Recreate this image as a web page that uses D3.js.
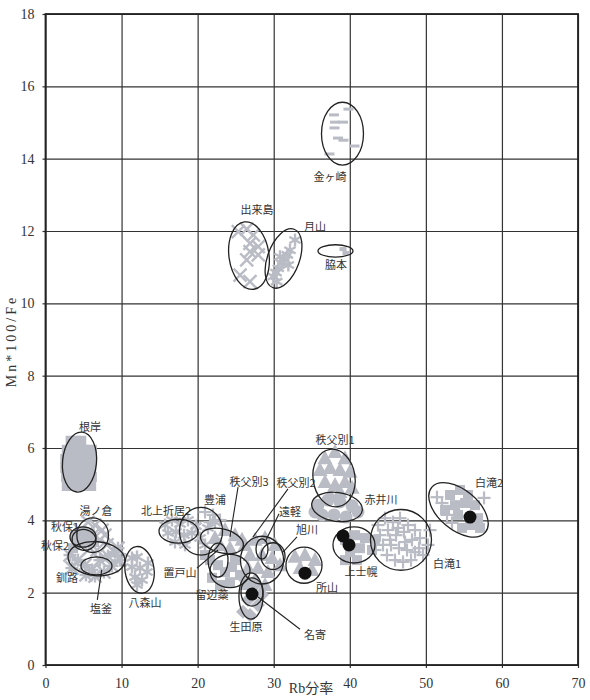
<!DOCTYPE html>
<html><head><meta charset="utf-8">
<script src="https://cdn.jsdelivr.net/npm/d3@7"></script>
<style>
body{margin:0;background:#fff;}
svg{display:block;}
</style></head>
<body>
<svg id="chart" width="590" height="700"></svg>
<script>
// ---- axis ticks ----
const xTicks = [0,10,20,30,40,50,60,70];
const yTicks = [0,2,4,6,8,10,12,14,16,18];

// ---- gray sample points [Rb分率, Mn*100/Fe] ----
const nemuro = [[3.3,6.2],[4.0,6.2],[4.7,6.2],[2.8,5.95],[3.5,5.95],[4.2,5.95],[4.9,5.95],[5.5,5.95],[6.1,5.95],
  [2.6,5.7],[3.3,5.7],[4.0,5.7],[4.7,5.7],[5.4,5.7],[6.1,5.7],[2.6,5.45],[3.3,5.45],[4.0,5.45],[4.7,5.45],[5.4,5.45],[6.0,5.45],
  [2.7,5.2],[3.4,5.2],[4.1,5.2],[4.8,5.2],[5.5,5.2],[6.1,5.2],[2.8,4.95],[3.5,4.95],[4.2,4.95],[4.9,4.95],[6.0,4.95]];
const yunokura = [[4.54,3.73],[5.59,3.95],[6.51,3.87],[7.43,3.73],[5.19,3.51],[6.24,3.59],[7.16,3.46],[8.08,3.32],[5.85,3.23],[6.77,3.18],[7.82,3.59],[4.80,3.32]];
const akiu = [[3.88,3.59],[4.80,3.68],[5.85,3.62],[4.27,3.40],[5.32,3.43],[6.38,3.40],[3.62,3.23]];
const kushiro = [[3.22,3.04],[4.27,2.90],[3.48,2.68],[5.19,2.76],[6.11,2.63],[7.16,2.90],[8.22,3.01],[9.14,3.12],[9.79,2.90],[8.74,2.74],[7.69,2.57],[6.51,2.46],[5.32,2.49],[9.53,3.23]];
const hachimori = [[12.03,2.99],[11.37,2.71],[12.42,2.68],[13.34,2.57],[11.77,2.43],[12.69,2.35],[12.03,2.21],[13.47,2.82],[11.37,2.96]];
const kitakami2 = [[15.71,3.87],[16.63,4.01],[17.68,3.90],[18.73,4.01],[19.78,3.84],[16.10,3.65],[17.16,3.68],[18.21,3.59],[19.26,3.65],[20.31,3.51],[17.02,3.40],[18.34,3.32],[21.36,3.79],[22.28,3.95],[20.97,3.32]];
const toyoura = [[20.97,4.23],[22.02,4.15],[22.94,4.01],[21.63,3.95]];
const chippubetsu3 = [[22.28,3.51],[23.6,3.73],[24.91,3.59],[25.83,3.46],[22.94,3.32],[24.25,3.23]];
const rubeshibe = [[21.63,2.90],[22.68,2.76],[23.6,2.57],[24.52,2.71],[25.57,2.49],[21.89,2.41],[22.94,2.21],[24.25,2.29],[26.23,2.21],[20.97,3.04],[24.91,2.9]];
const ikutahara = [[26.23,2.35],[27.54,2.21],[26.62,1.80],[27.93,1.66],[25.96,1.47],[26.88,1.38],[28.46,1.94]];
const chippubetsu2 = [[26.23,3.32],[27.54,3.46],[28.86,3.51],[30.17,3.32],[26.88,3.04],[28.46,3.04],[29.78,2.96],[30.83,2.76],[26.62,2.68],[27.93,2.68],[29.24,2.57],[27.54,2.35],[28.86,2.21]];
const tokoroyama = [[32.8,2.99],[34.11,3.04],[35.43,2.90],[33.46,2.68],[35.03,2.63]];
const chippubetsu1 = [[36.74,5.72],[38.06,5.89],[39.37,5.72],[36.09,5.39],[37.4,5.45],[38.71,5.39],[40.03,5.34],[36.74,5.06],[38.06,4.98],[39.37,5.06],[37.4,4.7],[38.71,4.78],[40.3,4.9]];
const akaigawa = [[35.82,4.42],[37.14,4.56],[38.71,4.51],[40.3,4.40],[41.08,4.23],[36.35,4.15],[37.93,4.15],[39.5,4.09],[35.43,4.23]];
const kamishihoro = [[39.37,3.46],[40.69,3.59],[42.0,3.51],[43.32,3.46],[40.03,3.12],[41.34,3.23],[42.92,3.18],[39.37,2.9],[40.95,2.9]];
const shirataki1 = [[43.71,3.87],[44.63,4.06],[45.68,3.95],[46.6,4.06],[47.65,3.87],[48.57,3.73],[43.97,3.59],[45.02,3.73],[46.08,3.59],[47.13,3.68],[48.18,3.46],[49.23,3.51],[50.28,3.32],[44.37,3.32],[45.42,3.32],[46.47,3.23],[47.52,3.18],[48.57,3.12],[49.63,3.04],[44.89,3.04],[45.95,2.90],[47.0,2.85],[48.05,2.90],[49.1,3.23],[50.55,3.73],[43.32,3.18],[46.34,3.79],[45.29,3.46],[47.26,3.40]];
const shirataki2sq = [[53.18,4.70],[54.49,4.84],[55.54,4.70],[53.83,4.42],[55.15,4.48],[56.46,4.42],[52.52,4.29],[54.23,4.15],[56.86,4.06],[55.8,3.87],[57.12,3.79],[54.75,3.79]];
const shirataki2pl = [[51.46,4.64],[52.12,4.48],[52.78,4.15],[57.65,4.62],[53.44,3.93]];
const kanegasaki = [[37.93,15.21],[39.83,15.37],[38.06,15.01],[39.11,15.01],[37.99,14.85],[38.45,14.57],[39.17,14.51],[40.62,14.35],[37.33,14.13]];
const dekijima = [[25.35,11.98],[26.45,12.05],[27.32,11.89],[26.88,11.66],[27.97,11.57],[26.88,11.43],[27.97,11.34],[26.45,11.20],[25.57,10.78],[26.88,10.60]];
const gassan = [[32.8,11.75],[32.14,11.47],[31.79,11.34],[31.49,11.20],[31.05,11.11],[30.6,10.97],[30.3,10.85],[29.95,10.74],[30.39,10.60],[31.92,11.06],[30.83,11.29]];
const wakimoto = [[39.11,11.50],[39.5,11.39]];

// black reference points
const blackDots = [[27.15,1.96],[34.11,2.54],[39.11,3.57],[39.9,3.32],[55.8,4.09]];

// ellipses: name, cx, cy, rx (Rb units), ry (Mn units), rotation
const ellipses = [
  ["根岸",4.47,5.61,2.23,0.83,5],["湯ノ倉",6.2,3.59,2.08,0.48,0],["秋保1",4.93,3.54,1.71,0.28,0],["秋保2",5.06,3.46,1.58,0.29,10],
  ["釧路",6.7,2.94,3.75,0.47,5],["塩釜",6.7,2.74,2.04,0.25,0],["八森山",12.36,2.63,1.91,0.65,-8],
  ["北上折居2",17.48,3.70,2.56,0.33,0],["豊浦",20.44,3.70,2.83,0.66,0],["秩父別3",23.2,3.43,2.89,0.33,15],
  ["置戸山",22.68,2.90,1.31,0.47,0],["留辺蘂",24.25,2.60,2.63,0.46,0],["生田原",27.01,1.91,1.58,0.64,0],["名寄",27.15,2.02,1.45,0.39,0],
  ["秩父別2",28.46,2.90,2.83,0.66,0],["遠軽",28.46,3.21,0.79,0.28,0],["旭川",29.91,3.01,1.58,0.37,0],["所山",33.98,2.76,2.37,0.50,0],
  ["秩父別1",37.93,5.17,2.76,0.80,-8],["赤井川",38.32,4.37,3.35,0.40,8],["上士幌",40.55,3.32,2.76,0.50,0],
  ["白滝1",46.73,3.46,4.01,0.84,0],["白滝2",54.29,4.29,4.6,0.55,40],["金ヶ崎",39.04,14.69,2.76,0.87,0],
  ["出来島",26.75,11.32,2.63,0.94,-8],["月山",31.29,11.24,2.10,0.86,20],["脇本",38.12,11.45,2.30,0.17,0]
];

// labels: text, x, y
const labels = [
  ["金ヶ崎",37.4,13.49],["出来島",27.8,12.58],["月山",35.43,12.11],["脇本",38.19,11.06],["根岸",5.85,6.58],
  ["湯ノ倉",6.64,4.26],["秋保1",2.56,3.82],["秋保2",1.25,3.29],["釧路",2.83,2.41],["塩釜",7.3,1.55],["八森山",13.08,1.71],
  ["北上折居2",15.84,4.26],["豊浦",22.28,4.56],["秩父別3",26.75,5.06],["秩父別2",32.93,5.03],["遠軽",32.14,4.23],["旭川",34.38,3.73],
  ["置戸山",17.68,2.54],["留辺蘂",21.89,1.94],["生田原",26.36,1.05],["名寄",35.43,0.83],["所山",37.0,2.13],
  ["秩父別1",38.06,6.22],["赤井川",44.1,4.56],["上士幌",41.48,2.57],["白滝1",52.78,2.79],["白滝2",58.3,5.03]
];

// leader lines: x1,y1,x2,y2
const leaders = [
  [7.39,2.63,6.81,1.80],[25.31,4.92,24.25,3.54],[31.88,4.87,27.28,3.54],[30.7,4.18,28.86,3.40],
  [33.06,3.54,31.22,3.12],[19.91,2.68,22.68,3.18],[27.93,1.88,33.46,0.99]
];

// ---- drawing ----
const W = 590, H = 700;
const m = {l:45.5, r:12, t:14, b:35};
const svg = d3.select("#chart");
const x = d3.scaleLinear().domain([0,70]).range([m.l, W-m.r]);
const y = d3.scaleLinear().domain([0,18]).range([H-m.b, m.t]);
const kx = x(1)-x(0), ky = y(0)-y(1);
const GRAY = "#b9bcc4";
const INK = "#222";

// grid
const gx = svg.append("g").attr("transform",`translate(0,${y(0)})`)
  .call(d3.axisBottom(x).tickValues(xTicks).tickSize(-(y(0)-y(18))).tickFormat(""));
gx.select(".domain").remove();
gx.selectAll("line").attr("stroke","#333").attr("stroke-width",1.2);
const gy = svg.append("g").attr("transform",`translate(${x(0)},0)`)
  .call(d3.axisLeft(y).tickValues(yTicks).tickSize(-(x(70)-x(0))).tickFormat(""));
gy.select(".domain").remove();
gy.selectAll("line").attr("stroke","#333").attr("stroke-width",1.2);

// tick labels
const ax = svg.append("g").attr("transform",`translate(0,${y(0)})`)
  .call(d3.axisBottom(x).tickValues(xTicks).tickSize(3).tickPadding(10));
ax.select(".domain").remove();
ax.selectAll("line").attr("stroke","#333").attr("stroke-width",1.2);
ax.selectAll("text").attr("font-family","'Liberation Serif',serif").attr("font-size",14).attr("fill","#333");
const ay = svg.append("g").attr("transform",`translate(${x(0)},0)`)
  .call(d3.axisLeft(y).tickValues(yTicks).tickSize(3).tickPadding(8));
ay.select(".domain").remove();
ay.selectAll("line").attr("stroke","#333").attr("stroke-width",1.2);
ay.selectAll("text").attr("font-family","'Liberation Serif',serif").attr("font-size",14).attr("fill","#333");

// frame
svg.append("rect").attr("x",x(0)).attr("y",y(18)).attr("width",x(70)-x(0)).attr("height",y(0)-y(18))
  .attr("fill","none").attr("stroke","#222").attr("stroke-width",1.8);

// markers
const mk = svg.append("g");
function drawPts(pts, shape){
  pts.forEach(([a,b])=>{
    const px=x(a), py=y(b);
    if(shape==="square"){
      mk.append("rect").attr("x",px-5).attr("y",py-5).attr("width",10).attr("height",10).attr("fill",GRAY);
    } else if(shape==="smallsq"){
      mk.append("rect").attr("x",px-3.5).attr("y",py-2).attr("width",7).attr("height",4).attr("fill",GRAY);
    } else if(shape==="diamond"){
      mk.append("path").attr("d",`M${px},${py-7}L${px+7},${py}L${px},${py+7}L${px-7},${py}Z`).attr("fill",GRAY);
    } else if(shape==="tri"){
      mk.append("path").attr("d",`M${px},${py-8}L${px+7.5},${py+6}L${px-7.5},${py+6}Z`).attr("fill",GRAY);
    } else if(shape==="circle"){
      mk.append("circle").attr("cx",px).attr("cy",py).attr("r",6.5).attr("fill",GRAY);
    } else if(shape==="dash"){
      mk.append("rect").attr("x",px-5).attr("y",py-1.5).attr("width",10).attr("height",3).attr("fill",GRAY);
    } else {
      const s=6.5, segs=[];
      if(shape==="x"||shape==="ast") segs.push([-s,-s,s,s],[-s,s,s,-s]);
      if(shape==="plus"||shape==="ast") segs.push([-s,0,s,0],[0,-s,0,s]);
      if(shape==="star6") segs.push([0,-s,0,s],[-s*0.87,-s*0.5,s*0.87,s*0.5],[-s*0.87,s*0.5,s*0.87,-s*0.5]);
      segs.forEach(q=>mk.append("line").attr("x1",px+q[0]).attr("y1",py+q[1]).attr("x2",px+q[2]).attr("y2",py+q[3])
        .attr("stroke",GRAY).attr("stroke-width",shape==="plus"?2.2:2.4));
    }
  });
}
const markerGroups = [
  [nemuro,"square"],[yunokura,"x"],[akiu,"square"],[kushiro,"ast"],[hachimori,"star6"],[kitakami2,"star6"],
  [toyoura,"plus"],[chippubetsu3,"tri"],[rubeshibe,"square"],[ikutahara,"diamond"],[chippubetsu2,"tri"],
  [tokoroyama,"tri"],[chippubetsu1,"tri"],[akaigawa,"circle"],[kamishihoro,"square"],[shirataki1,"plus"],
  [shirataki2sq,"square"],[shirataki2pl,"plus"],[kanegasaki,"dash"],[dekijima,"x"],[gassan,"star6"],[wakimoto,"smallsq"]
];
markerGroups.forEach(([p,s])=>drawPts(p,s));

// ellipses
svg.append("g").selectAll("ellipse").data(ellipses).join("ellipse")
  .attr("transform",d=>`translate(${x(d[1])},${y(d[2])}) rotate(${d[5]})`)
  .attr("rx",d=>d[3]*kx).attr("ry",d=>d[4]*ky)
  .attr("fill","none").attr("stroke",INK).attr("stroke-width",1.3);

// black dots
svg.append("g").selectAll("circle").data(blackDots).join("circle")
  .attr("cx",d=>x(d[0])).attr("cy",d=>y(d[1])).attr("r",6.5).attr("fill","#111");

// leader lines
svg.append("g").selectAll("line").data(leaders).join("line")
  .attr("x1",d=>x(d[0])).attr("y1",d=>y(d[1])).attr("x2",d=>x(d[2])).attr("y2",d=>y(d[3]))
  .attr("stroke",INK).attr("stroke-width",1.1);

// labels
svg.append("g").selectAll("text").data(labels).join("text")
  .attr("x",d=>x(d[1])).attr("y",d=>y(d[2])).attr("dy","0.35em").attr("text-anchor","middle")
  .attr("font-family","'Noto Sans CJK JP','Noto Sans CJK SC',sans-serif").attr("font-size",11).attr("fill","#333")
  .text(d=>d[0]);

// axis titles
svg.append("text").attr("x",311).attr("y",693).attr("text-anchor","middle")
  .attr("font-family","'Liberation Serif','Noto Sans CJK JP',serif").attr("font-size",14).attr("fill","#333").text("Rb分率");
svg.append("text").attr("transform","translate(16,341) rotate(-90)").attr("text-anchor","middle")
  .attr("font-family","'Liberation Serif',serif").attr("font-size",14).attr("letter-spacing",3).attr("fill","#333").text("Mn*100/Fe");
</script>
</body></html>
